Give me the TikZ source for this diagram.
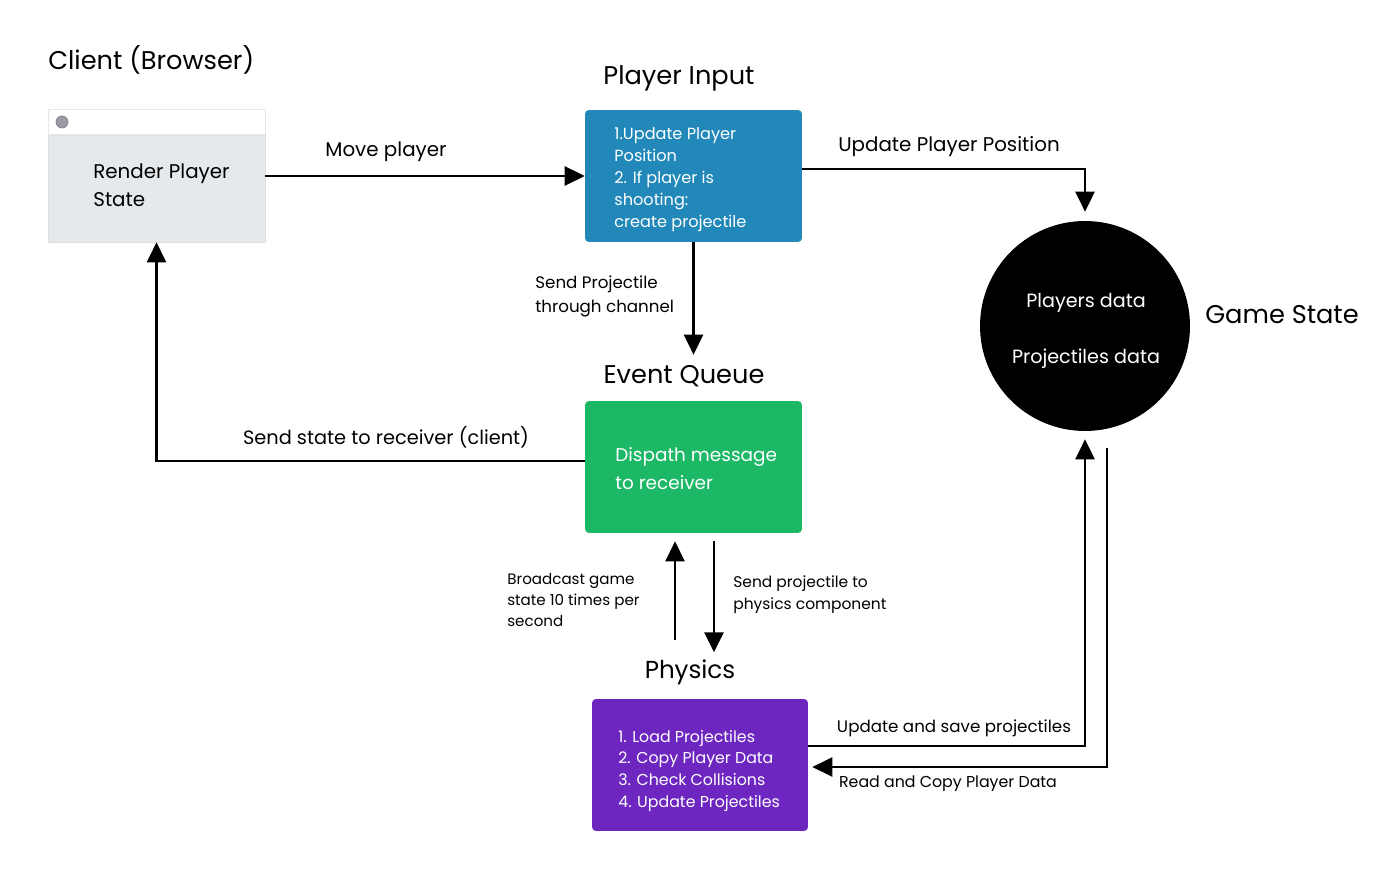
\documentclass[tikz,border=0pt]{standalone}
\usepackage{fontspec}
\setmainfont{Poppins}
\usetikzlibrary{arrows.meta,calc}

\definecolor{clientgray}{HTML}{E6E9EC}
\definecolor{inputblue}{HTML}{2188B9}
\definecolor{queuegreen}{HTML}{1CB866}
\definecolor{physpurple}{HTML}{6E26C0}
\definecolor{dotgray}{HTML}{9A9AA5}

\begin{document}
\begin{tikzpicture}[x=0.02cm, y=-0.02cm,
    box/.style = {rectangle, rounded corners=0.08cm, inner sep=0pt, minimum width=4.34cm, minimum height=2.64cm},
    flow/.style = {line width=1.6pt, -{Triangle[length=0.4cm, width=0.38cm]}},
    title/.style = {inner sep=0pt, font=\fontsize{14.6}{17}\selectfont},
    label/.style = {inner sep=0pt, align=left, font=\fontsize{11.3}{15.9}\selectfont},
    small/.style = {inner sep=0pt, align=left, font=\fontsize{9.2}{12.5}\selectfont},
    boxtext/.style = {inner sep=0pt, align=left, text=white, font=\fontsize{9}{12.5}\selectfont}]
    \useasboundingbox (0, 0) rectangle (1400, 888);
    % boxes
    \node[fill=clientgray, draw=clientgray!80!black!20!clientgray, minimum width=4.34cm, minimum height=2.14cm, inner sep=0pt] (Client) at (156.5, 188.5) {};
    \node[fill=white, draw=clientgray, minimum width=4.34cm, minimum height=0.5cm, inner sep=0pt, anchor=south west] (Client Bar) at (48, 135) {};
    \node[circle, fill=dotgray, draw=gray, minimum size=0.24cm, inner sep=0pt] (Client Dot) at (62, 122) {};
    \node[box, fill=inputblue] (Input) at (693.5, 176) {};
    \node[box, fill=queuegreen] (Queue) at (693.5, 467) {};
    \node[box, fill=physpurple, minimum width=4.32cm] (Physics) at (700, 765) {};
    \node[circle, fill=black, minimum size=4.2cm, inner sep=0pt] (State) at (1085, 326) {};
    % titles
    \node[title, anchor=west] (Client Title) at (48, 60) {Client (Browser)};
    \node[title] (Input Title) at (679, 78) {Player Input};
    \node[title] (Queue Title) at (684, 376) {Event Queue};
    \node[title, font=\fontsize{14}{17}\selectfont] (Physics Title) at (690, 672) {Physics};
    \node[title] (State Title) at (1282, 315) {Game State};
    % texts in boxes
    \node[label, anchor=west] (Render) at (93, 185) {Render Player\\State};
    \node[boxtext, anchor=west, font=\fontsize{9.2}{12.5}\selectfont] (Input Text) at (614, 180) {1.Update Player\\Position\\2. If player is\\shooting:\\create projectile};
    \node[label, anchor=west, text=white, font=\fontsize{10.5}{15.9}\selectfont] (Queue Text) at (615, 469) {Dispath message\\to receiver};
    \node[boxtext, anchor=west] (Physics Text) at (618, 771) {1. Load Projectiles\\2. Copy Player Data\\3. Check Collisions\\4. Update Projectiles};
    \node[inner sep=0pt, align=center, text=white, font=\fontsize{10.9}{15}\selectfont] (State Text) at (1086, 331) {Players data\\[0.58cm]Projectiles data};
    % connectors
    \draw[flow] (Client.east |- Input) -- (Input.west);
    \draw[flow, shorten >=0.18cm] ($(Input.east)+(0, -7)$) -| (State.north);
    \draw[flow] (Input.south) -- ($(Queue.north)+(0, -46)$);
    \draw[flow] ($(Queue.west)+(0, -6)$) -| (Client.south);
    \draw[flow] ($(Queue.south)+(-18.5, 107)$) -- ($(Queue.south)+(-18.5, 8)$);
    \draw[flow] ($(Queue.south)+(20.5, 8)$) -- ($(Queue.south)+(20.5, 119)$);
    \draw[flow, shorten >=0.16cm] ($(Physics.east)+(0, -19)$) -| (State.south);
    \draw[flow] ($(State.south)+(22, 17)$) |- ($(Physics.east)+(4, 2)$);
    % connector labels
    \node[label] (Move Label) at (386, 152) {Move player};
    \node[label] (Position Label) at (949, 147) {Update Player Position};
    \node[small, font=\fontsize{9.5}{13.6}\selectfont, anchor=west] (Channel Label) at (535, 296) {Send Projectile\\through channel};
    \node[label, font=\fontsize{11}{15.9}\selectfont] (Receiver Label) at (386, 437) {Send state to receiver (client)};
    \node[small, anchor=west, font=\fontsize{8.6}{11.9}\selectfont] (Broadcast Label) at (507, 600) {Broadcast game\\state 10 times per\\second};
    \node[small, anchor=west, font=\fontsize{8.8}{12.5}\selectfont] (Physics Label) at (733, 595) {Send projectile to\\physics component};
    \node[small, font=\fontsize{9.5}{12.5}\selectfont] (Save Label) at (954, 728) {Update and save projectiles};
    \node[small, font=\fontsize{9}{12.5}\selectfont] (Read Label) at (948, 784) {Read and Copy Player Data};
\end{tikzpicture}
\end{document}
